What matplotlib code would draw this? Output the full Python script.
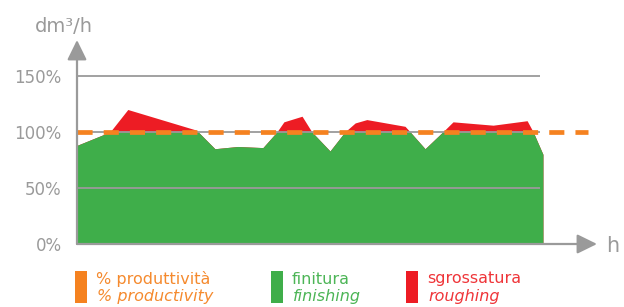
import matplotlib.pyplot as plt
from matplotlib.patches import Rectangle

# time (arbitrary hours, 0-100) and removal rate as % of nominal
hours = [0, 7.1, 10.9, 25.3, 26.0, 29.6, 34.5, 39.9, 42.9, 44.4, 48.3, 50.4,
         54.3, 57.5, 59.7, 62.2, 70.4, 71.5, 74.7, 78.5, 80.7, 89.3, 96.6, 97.9, 100]
finishing = [88, 100, 100, 100, 100, 85, 87, 86, 100, 100, 100, 100,
             83, 100, 100, 100, 100, 100, 85, 100, 100, 100, 100, 100, 80]
roughing_top = [88, 100, 120, 102, 100, 85, 87, 86, 100, 109, 114, 100,
                83, 100, 108, 111, 105, 100, 85, 100, 109, 106, 110, 100, 80]
productivity = 100

y_ticks = [0, 50, 100, 150]
y_labels = ["0%", "50%", "100%", "150%"]
grid_levels = [50, 100, 150]

legend_it = ["% produttività", "finitura", "sgrossatura"]
legend_en = ["% productivity", "finishing", "roughing"]

GRAY = "#9a9a9a"
ORANGE = "#f58220"
GREEN = "#3fae4a"
RED = "#ed1c24"
box_colors = [ORANGE, GREEN, RED]
text_colors = ["#f58a2e", "#4cb556", "#ef3539"]

W, H = 624, 307
fig = plt.figure(figsize=(W / 100, H / 100), dpi=100)
ax = fig.add_axes([77 / W, 63 / H, 520 / W, 204 / H])
ax.set_xlim(0, 111.6)
ax.set_ylim(0, 182)

# areas
ax.fill_between(hours, 0, roughing_top, color=RED, lw=0, zorder=1)
ax.fill_between(hours, 0, finishing, color=GREEN, lw=0, zorder=2)

# grid lines
ax.hlines(grid_levels, 0, 99.4, color=GRAY, lw=1.3, zorder=3)

# target productivity
ax.plot([0, 109.7], [productivity, productivity], color=ORANGE, lw=3.4,
        linestyle=(0, (3.2, 2.35)), zorder=4)

# axes with arrows
arrow = dict(arrowstyle="-|>,head_length=0.55,head_width=0.27", color=GRAY,
             lw=1.6, shrinkA=0, shrinkB=0, mutation_scale=22)
ax.annotate("", xy=(111.6, 0), xytext=(0, 0), arrowprops=arrow,
            annotation_clip=False, zorder=5)
ax.annotate("", xy=(0, 182), xytext=(0, 0), arrowprops=arrow,
            annotation_clip=False, zorder=5)

for s in ax.spines.values():
    s.set_visible(False)
ax.set_xticks([])
ax.set_yticks(y_ticks)
ax.set_yticklabels(y_labels, fontsize=12, color=GRAY)
ax.tick_params(axis="y", length=0, pad=11)

fig.text(35 / W, 1 - 32 / H, "dm³/h", fontsize=14, color=GRAY, va="baseline")
fig.text(606 / W, 1 - 252 / H, "h", fontsize=15, color=GRAY, va="baseline")

# legend
box_x = [75, 271, 406]
for bx, c, t1, t2, tc in zip(box_x, box_colors, legend_it, legend_en, text_colors):
    fig.add_artist(Rectangle((bx / W, 1 - 303 / H), 12 / W, 32 / H,
                             transform=fig.transFigure, color=c, lw=0))
    fig.text((bx + 21) / W, 1 - 279 / H, t1, fontsize=11.5, color=tc, va="center")
    fig.text((bx + 22) / W, 1 - 296 / H, t2, fontsize=11.5, color=tc,
             va="center", style="italic")

fig.savefig("out.png", dpi=100)
